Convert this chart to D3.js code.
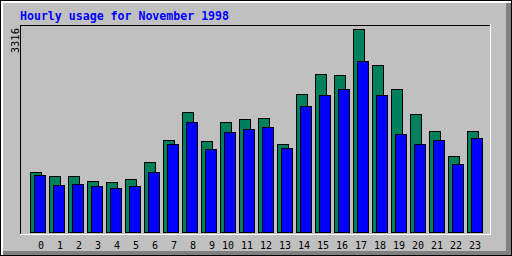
<!DOCTYPE html>
<html>
<head>
<meta charset="utf-8">
<script src="https://cdn.jsdelivr.net/npm/d3@7"></script>
<style>
  body { margin: 0; background: #fff; }
  svg { display: block; }
</style>
</head>
<body>
<script>
var title = "Hourly usage for November 1998";
var hours = ["0","1","2","3","4","5","6","7","8","9","10","11","12","13","14","15","16","17","18","19","20","21","22","23"];
var hits = [980, 915, 915, 833, 817, 866, 1143, 1503, 1960, 1486, 1797, 1846, 1862, 1437, 2254, 2581, 2565, 3316, 2728, 2336, 1928, 1650, 1241, 1650];
var files = [931, 768, 784, 751, 719, 751, 980, 1437, 1797, 1356, 1634, 1683, 1715, 1372, 2058, 2238, 2336, 2793, 2238, 1601, 1437, 1503, 1111, 1535];
var maxLabel = 3316;

var W = 512, H = 256;
var svg = d3.select("body").append("svg")
    .attr("width", W)
    .attr("height", H)
    .attr("shape-rendering", "crispEdges");

// background + 3d frame
svg.append("rect").attr("x", 0).attr("y", 0).attr("width", W).attr("height", H).attr("fill", "#c0c0c0");
svg.append("rect").attr("x", 1).attr("y", 1).attr("width", W - 1).attr("height", 2).attr("fill", "#ffffff");
svg.append("rect").attr("x", 1).attr("y", 1).attr("width", 2).attr("height", H - 1).attr("fill", "#ffffff");
svg.append("rect").attr("x", 506).attr("y", 3).attr("width", 5).attr("height", H - 3).attr("fill", "#808080");
svg.append("rect").attr("x", 3).attr("y", 251).attr("width", W - 3).attr("height", 5).attr("fill", "#808080");
svg.append("rect").attr("x", 0.5).attr("y", 0.5).attr("width", W - 1).attr("height", H - 1)
    .attr("fill", "none").attr("stroke", "#000");

// title
svg.append("text")
    .attr("x", 20)
    .attr("y", 19.5)
    .attr("textLength", 209)
    .attr("lengthAdjust", "spacingAndGlyphs")
    .style("font-family", "'DejaVu Sans Mono', monospace")
    .style("font-weight", "bold")
    .style("font-size", "11.6px")
    .style("fill", "#0000ff")
    .text(title);

// plot frame: white bottom/right, black top/left
svg.append("line").attr("x1", 20).attr("y1", 234.5).attr("x2", 491).attr("y2", 234.5).attr("stroke", "#fff");
svg.append("line").attr("x1", 490.5).attr("y1", 24).attr("x2", 490.5).attr("y2", 235).attr("stroke", "#fff");
svg.append("line").attr("x1", 20).attr("y1", 25.5).attr("x2", 490).attr("y2", 25.5).attr("stroke", "#000");
svg.append("line").attr("x1", 20.5).attr("y1", 25).attr("x2", 20.5).attr("y2", 234).attr("stroke", "#000");

var x = d3.scaleBand().domain(hours).range([30, 30 + 19 * hours.length]);
var y = d3.scaleLinear().domain([0, maxLabel]).range([232.5, 29.5]);

function barTop(v) { return Math.round(y(v) - 0.5) + 0.5; }

// hits (green, behind)
svg.append("g").selectAll("rect")
    .data(hits)
    .enter().append("rect")
    .attr("x", function(d, i) { return x(hours[i]) + 0.5; })
    .attr("y", function(d) { return barTop(d); })
    .attr("width", 11)
    .attr("height", function(d) { return y(0) - barTop(d); })
    .attr("fill", "#00805c")
    .attr("stroke", "#000");

// files (blue, front)
svg.append("g").selectAll("rect")
    .data(files)
    .enter().append("rect")
    .attr("x", function(d, i) { return x(hours[i]) + 4.5; })
    .attr("y", function(d) { return barTop(d); })
    .attr("width", 11)
    .attr("height", function(d) { return y(0) - barTop(d); })
    .attr("fill", "#0000ff")
    .attr("stroke", "#000");

// hour labels
svg.append("g").selectAll("text")
    .data(hours)
    .enter().append("text")
    .attr("x", function(d) { return x(d) + 14; })
    .attr("y", 249)
    .attr("text-anchor", "end")
    .style("font-family", "'DejaVu Sans Mono', monospace")
    .style("font-size", "10px")
    .style("fill", "#000")
    .text(function(d) { return d; });

// max label, rotated
svg.append("text")
    .attr("transform", "translate(19,28) rotate(-90)")
    .attr("text-anchor", "end")
    .style("font-family", "'DejaVu Sans Mono', monospace")
    .style("font-size", "10.5px")
    .style("fill", "#000")
    .text(maxLabel);
</script>
</body>
</html>
